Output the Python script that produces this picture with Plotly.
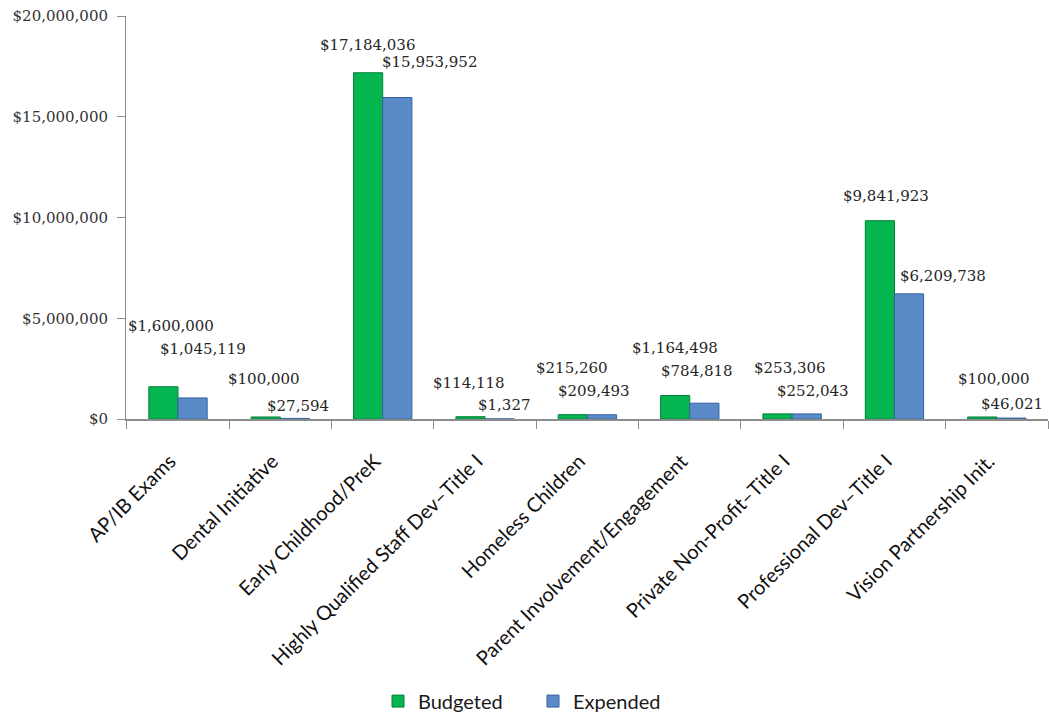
import plotly.graph_objects as go

# Program budget vs. spending
categories = [
    "AP/IB Exams",
    "Dental Initiative",
    "Early Childhood/PreK",
    "Highly Qualified Staff Dev–Title I",
    "Homeless Children",
    "Parent Involvement/Engagement",
    "Private Non-Profit–Title I",
    "Professional Dev–Title I",
    "Vision Partnership Init.",
]
budgeted = [1600000, 100000, 17184036, 114118, 215260, 1164498, 253306, 9841923, 100000]
expended = [1045119, 27594, 15953952, 1327, 209493, 784818, 252043, 6209738, 46021]

y_ticks = [0, 5000000, 10000000, 15000000, 20000000]

# hand-placed label offsets in pixels (dx, dy) from the top-centre of each category
budget_label_dx = [-7, -16, -15, -16, -15, -15, -2, -8, -3]
budget_label_dy = [61, 38, 28, 34, 47, 48, 46, 25, 38]
expend_label_dx = [25, 18, 47, 19, 7, 7, 21, 49, 15]
expend_label_dy = [49, 12, 36, 14, 24, 32, 23, 18, 14]

GREEN = "#05B550"
GREEN_EDGE = "#06803A"
BLUE = "#5A8BC8"
BLUE_EDGE = "#35639E"

label_font = dict(family="DejaVu Serif", size=15, color="#262626")

fig = go.Figure()
fig.add_trace(go.Bar(
    x=categories, y=budgeted, name="Budgeted",
    marker=dict(color=GREEN, line=dict(color=GREEN_EDGE, width=1)),
))
fig.add_trace(go.Bar(
    x=categories, y=expended, name="Expended",
    marker=dict(color=BLUE, line=dict(color=BLUE_EDGE, width=1)),
))


def money(v):
    return "${:,}".format(v)


annotations = []
for i, cat in enumerate(categories):
    annotations.append(dict(
        x=cat, y=budgeted[i], text=money(budgeted[i]), showarrow=False,
        xshift=budget_label_dx[i], yshift=budget_label_dy[i],
        xanchor="center", yanchor="middle", font=label_font,
    ))
    annotations.append(dict(
        x=cat, y=expended[i], text=money(expended[i]), showarrow=False,
        xshift=expend_label_dx[i], yshift=expend_label_dy[i],
        xanchor="center", yanchor="middle", font=label_font,
    ))

fig.update_layout(
    width=1049, height=721,
    margin=dict(l=126, r=1, t=16, b=298),
    paper_bgcolor="white", plot_bgcolor="white",
    barmode="group", bargap=0.43, bargroupgap=0,
    annotations=annotations,
    showlegend=True,
    legend=dict(
        orientation="h", x=252 / 922, xanchor="left",
        y=-0.70, yanchor="middle",
        font=dict(family="Lato", size=20, color="#1a1a1a"),
        entrywidth=110, entrywidthmode="pixels",
        itemwidth=30, traceorder="normal",
    ),
    xaxis=dict(
        showline=True, linecolor="#8c8c8c", linewidth=1.5,
        ticks="outside", tickson="boundaries", ticklen=8, tickcolor="#8c8c8c",
        tickangle=-45, tickfont=dict(family="Lato", size=20, color="#111111"),
        ticklabelstandoff=21, ticklabelshift=-8,
        showgrid=False, zeroline=False,
    ),
    yaxis=dict(
        range=[0, 20000000], tickvals=y_ticks,
        ticktext=[money(v) for v in y_ticks],
        showline=True, linecolor="#8c8c8c", linewidth=1,
        ticks="outside", ticklen=8, tickcolor="#8c8c8c",
        tickfont=dict(family="DejaVu Serif", size=15, color="#333333"),
        ticklabelstandoff=6,
        showgrid=False, zeroline=False,
    ),
)

fig.write_html("out.html")
